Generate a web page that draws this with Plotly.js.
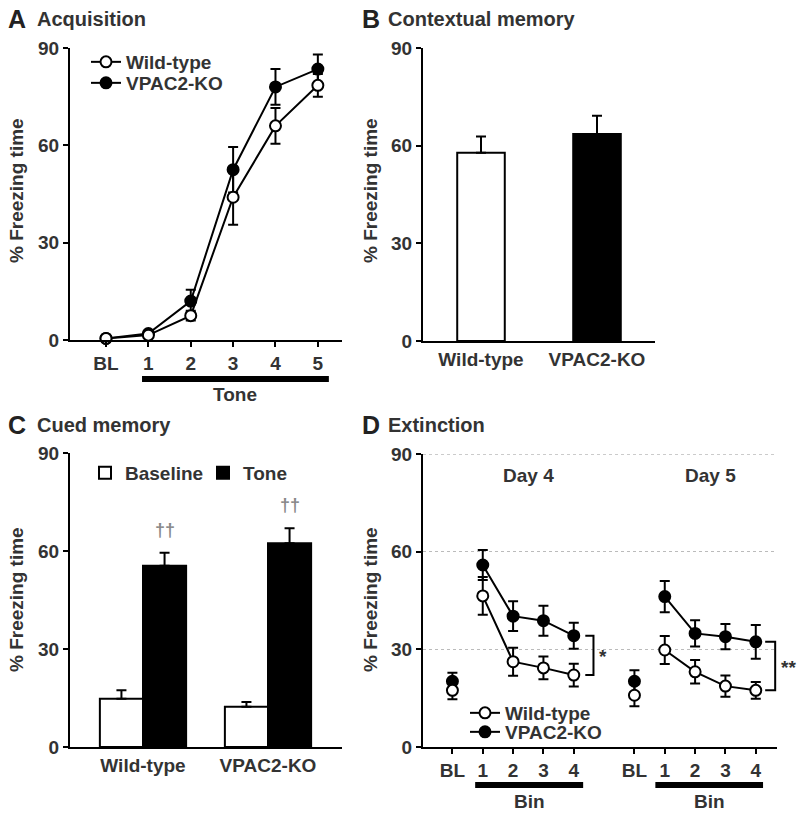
<!DOCTYPE html>
<html><head><meta charset="utf-8">
<script src="https://cdn.plot.ly/plotly-3.0.1.min.js"></script>
<style>body{margin:0;background:#fff}#chart{width:800px;height:817px}</style>
</head><body><div id="chart"></div><script>
// ---------- Panel A: Acquisition ----------
const acqLabels = ['BL','1','2','3','4','5'];
const acqX = [0,1,2,3,4,5];
const acqWT = [0.5,1.5,7.5,44,66,78.5];
const acqWTErr = [0.5,0.5,1.5,8.5,5.5,3.5];
const acqKO = [0.5,2,12,52.5,78,83.5];
const acqKOErr = [0.5,0.5,3.5,7,5.5,4.5];
// ---------- Panel B: Contextual memory ----------
const ctxGroups = ['Wild-type','VPAC2-KO'];
const ctxVals = [57.8,63.6];
const ctxErr = [5,5.6];
// ---------- Panel C: Cued memory ----------
const cueGroups = ['Wild-type','VPAC2-KO'];
const cueBase = [14.8,12.3];
const cueBaseErr = [2.6,1.5];
const cueTone = [55.5,62.4];
const cueToneErr = [4,4.6];
// ---------- Panel D: Extinction ----------
const extTickVals = [0,1,2,3,4,6,7,8,9,10];
const extTickText = ['BL','1','2','3','4','BL','1','2','3','4'];
const extBLX = [0,6];
const extBinX4 = [1,2,3,4];
const extBinX5 = [7,8,9,10];
const extWTBL = [17.4,15.9];
const extWTBLErr = [2.7,3.4];
const extKOBL = [20.2,20.2];
const extKOBLErr = [2.6,3.4];
const extWTD4 = [46.4,26.2,24.3,22.1];
const extWTD4Err = [5.8,4.3,3.5,3.5];
const extKOD4 = [55.9,40.2,38.8,34.2];
const extKOD4Err = [4.6,4.6,4.6,4];
const extWTD5 = [29.8,23.1,18.7,17.4];
const extWTD5Err = [4.3,3.6,3.3,2.6];
const extKOD5 = [46.2,34.9,33.9,32.3];
const extKOD5Err = [4.8,4,3.9,5.2];

const FONT = 'Liberation Sans, Arial, sans-serif';
const TXT = '#333';
const W = 800, H = 817;
const px = v => v / W;
const py = v => 1 - v / H;

function errSym(arr){return {type:'data',array:arr,visible:true,color:'#000',thickness:2,width:5};}
function errUp(arr){return {type:'data',symmetric:false,array:arr,arrayminus:arr.map(()=>0),visible:true,color:'#000',thickness:2,width:5};}
const openM = {symbol:'circle',size:11,color:'#fff',line:{color:'#000',width:2}};
const fillM = {symbol:'circle',size:11,color:'#000',line:{color:'#000',width:2}};
const ln = {color:'#000',width:2};

const traces = [
  // A
  {x:acqX,y:acqKO,error_y:errSym(acqKOErr),mode:'lines+markers',marker:fillM,line:ln,name:'VPAC2-KO',xaxis:'x',yaxis:'y',legend:'legend2',cliponaxis:false},
  {x:acqX,y:acqWT,error_y:errSym(acqWTErr),mode:'lines+markers',marker:openM,line:ln,name:'Wild-type',xaxis:'x',yaxis:'y',legend:'legend',cliponaxis:false},
  // B
  {type:'bar',x:[0,1],y:ctxVals,width:0.41,marker:{color:['#fff','#000'],line:{color:'#000',width:2}},error_y:errUp(ctxErr),xaxis:'x2',yaxis:'y2',showlegend:false},
  // C
  {type:'bar',x:cueGroups,y:cueBase,name:'Baseline',marker:{color:'#fff',line:{color:'#000',width:2}},error_y:errUp(cueBaseErr),xaxis:'x3',yaxis:'y3',legend:'legend3'},
  {type:'bar',x:cueGroups,y:cueTone,name:'Tone',marker:{color:'#000',line:{color:'#000',width:2}},error_y:errUp(cueToneErr),xaxis:'x3',yaxis:'y3',legend:'legend4'},
  // D
  {x:extBLX,y:extKOBL,error_y:errSym(extKOBLErr),mode:'markers',marker:fillM,xaxis:'x4',yaxis:'y4',showlegend:false,cliponaxis:false},
  {x:extBLX,y:extWTBL,error_y:errSym(extWTBLErr),mode:'markers',marker:openM,xaxis:'x4',yaxis:'y4',showlegend:false,cliponaxis:false},
  {x:extBinX4,y:extKOD4,error_y:errSym(extKOD4Err),mode:'lines+markers',marker:fillM,line:ln,name:'VPAC2-KO',xaxis:'x4',yaxis:'y4',legend:'legend6',cliponaxis:false},
  {x:extBinX4,y:extWTD4,error_y:errSym(extWTD4Err),mode:'lines+markers',marker:openM,line:ln,name:'Wild-type',xaxis:'x4',yaxis:'y4',legend:'legend5',cliponaxis:false},
  {x:extBinX5,y:extKOD5,error_y:errSym(extKOD5Err),mode:'lines+markers',marker:fillM,line:ln,xaxis:'x4',yaxis:'y4',showlegend:false,cliponaxis:false},
  {x:extBinX5,y:extWTD5,error_y:errSym(extWTD5Err),mode:'lines+markers',marker:openM,line:ln,xaxis:'x4',yaxis:'y4',showlegend:false,cliponaxis:false}
];

const tf = {family:FONT,size:19,color:TXT,weight:'bold'};
const axBase = {showline:true,linecolor:'#000',linewidth:2,showgrid:false,zeroline:false,tickfont:tf,ticks:'outside',ticklen:5,tickwidth:2,tickcolor:'#000',fixedrange:true};
const yBase = Object.assign({},axBase,{range:[0,90],tickvals:[0,30,60,90]});

const ann = [];
function txt(x,y,text,opt){ann.push(Object.assign({x:x,y:y,xref:'paper',yref:'paper',text:text,showarrow:false,font:{family:FONT,size:19,color:TXT,weight:'bold'},xanchor:'left',yanchor:'middle'},opt||{}));}
const letterFont = {family:FONT,size:25,color:'#222',weight:'bold'};
const headFont = {family:FONT,size:20,color:TXT,weight:'bold'};
// panel headings
txt(px(6),py(19),'A',{font:letterFont});
txt(px(35),py(19),'Acquisition',{font:headFont});
txt(px(360),py(19),'B',{font:letterFont});
txt(px(386),py(19),'Contextual memory',{font:headFont});
txt(px(6),py(425),'C',{font:letterFont});
txt(px(35),py(425),'Cued memory',{font:headFont});
txt(px(360),py(425),'D',{font:letterFont});
txt(px(386),py(425),'Extinction',{font:headFont});
// y titles
[[16,191],[370,191],[16,600],[370,600]].forEach(p=>txt(px(p[0]),py(p[1]),'% Freezing time',{textangle:-90,xanchor:'center'}));
// x-axis group labels
txt(px(235),py(394),'Tone',{xanchor:'center'});
txt(px(529),py(801),'Bin',{xanchor:'center'});
txt(px(709),py(801),'Bin',{xanchor:'center'});
// Day labels
ann.push({x:2.5,y:83.5,xref:'x4',yref:'y4',text:'Day 4',showarrow:false,font:tf});
ann.push({x:8.5,y:83.5,xref:'x4',yref:'y4',text:'Day 5',showarrow:false,font:tf});
// daggers
cueGroups.forEach((g,i)=>{
  ann.push({x:i+0.172,y:cueTone[i]+cueToneErr[i]+7,xref:'x3',yref:'y3',text:'††',showarrow:false,font:{family:FONT,size:18,color:'#888',weight:'bold'}});
});
// significance stars
ann.push({x:4.95,y:(extKOD4[3]+extWTD4[3])/2-0.5,xref:'x4',yref:'y4',text:'*',showarrow:false,font:tf});
txt(px(788),py(667),'**',{xanchor:'center'});

const shapes = [
  {type:'line',xref:'x',yref:'paper',x0:0.85,x1:5.26,y0:py(379),y1:py(379),line:{color:'#000',width:6}},
  {type:'line',xref:'x4',yref:'paper',x0:0.75,x1:4.31,y0:py(785),y1:py(785),line:{color:'#000',width:6}},
  {type:'line',xref:'x4',yref:'paper',x0:6.69,x1:10.24,y0:py(785),y1:py(785),line:{color:'#000',width:6}},
  {type:'line',xref:'x4 domain',yref:'y4',x0:0,x1:1,y0:90,y1:90,line:{color:'#bbb',width:1.5,dash:'dot'},layer:'below'},
  {type:'path',xref:'x4',yref:'y4',path:`M 4.38 ${extKOD4[3]} H 4.65 V ${extWTD4[3]} H 4.38`,line:{color:'#000',width:2}},
  {type:'path',xref:'x4',yref:'y4',path:`M 10.31 ${extKOD5[3]} H 10.64 V ${extWTD5[3]} H 10.31`,line:{color:'#000',width:2}}
];

const legFont = {family:FONT,size:19,color:TXT,weight:'bold'};
function leg(x,y){return {x:px(x),y:py(y),xanchor:'left',yanchor:'middle',font:legFont,bgcolor:'rgba(0,0,0,0)',itemwidth:30,borderwidth:0};}
const layout = {
  width:W,height:H,margin:{l:0,r:0,t:0,b:0},paper_bgcolor:'#fff',plot_bgcolor:'#fff',
  showlegend:true,barmode:'group',bargap:0.31,bargroupgap:0,
  xaxis:Object.assign({},axBase,{domain:[px(70),px(342)],anchor:'y',range:[-0.85,5.57],tickvals:acqX,ticktext:acqLabels}),
  yaxis:Object.assign({},yBase,{domain:[py(340),py(48)],anchor:'x'}),
  xaxis2:Object.assign({},axBase,{domain:[px(423),px(655)],anchor:'y2',range:[-0.5,1.5],tickvals:[0,1],ticktext:ctxGroups,ticks:''}),
  yaxis2:Object.assign({},yBase,{domain:[py(341),py(48)],anchor:'x2'}),
  xaxis3:Object.assign({},axBase,{domain:[px(70),px(342)],anchor:'y3',type:'category',range:[-0.584,1.592],ticks:''}),
  yaxis3:Object.assign({},yBase,{domain:[py(747),py(453)],anchor:'x3'}),
  xaxis4:Object.assign({},axBase,{domain:[px(423),px(777)],anchor:'y4',range:[-0.97,10.7],tickvals:extTickVals,ticktext:extTickText}),
  yaxis4:Object.assign({},yBase,{domain:[py(747),py(454)],anchor:'x4',showgrid:true,gridcolor:'#bbb',griddash:'dot',gridwidth:1.5}),
  legend:leg(86,62),
  legend2:leg(86,83),
  legend3:leg(85,473),
  legend4:leg(203,473),
  legend5:leg(465,713),
  legend6:leg(465,732),
  annotations:ann,shapes:shapes
};
Plotly.newPlot('chart',traces,layout,{staticPlot:true,displayModeBar:false});
</script></body></html>
